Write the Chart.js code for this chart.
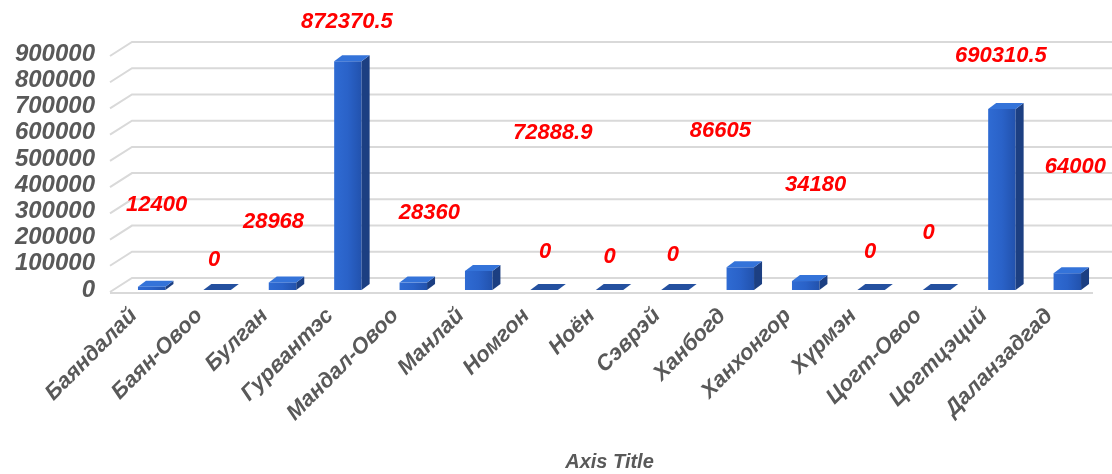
<!DOCTYPE html>
<html>
<head>
<meta charset="utf-8">
<script src="https://cdn.jsdelivr.net/npm/chart.js@4.4.1/dist/chart.umd.min.js"></script>
<style>
  html, body { margin: 0; padding: 0; background: #fff; }
  #chartDiv { width: 1112px; height: 474px; }
</style>
</head>
<body>
<div id="chartDiv"><canvas id="myChart"></canvas></div>
<script>
// soum names and values
let soums = ["Баяндалай", "Баян-Овоо", "Булган", "Гурвантэс", "Мандал-Овоо", "Манлай", "Номгон", "Ноён", "Сэврэй", "Ханбогд", "Ханхонгор", "Хүрмэн", "Цогт-Овоо", "Цогтцэций", "Даланзадгад"];
let amounts = [12400, 0, 28968, 872370.5, 28360, 72888.9, 0, 0, 0, 86605, 34180, 0, 0, 690310.5, 64000];
let valueLabels = ["12400", "0", "28968", "872370.5", "28360", "72888.9", "0", "0", "0", "86605", "34180", "0", "0", "690310.5", "64000"];
let yMax = 900000;
let yStep = 100000;

// where excel left each data label, relative to the bar top (px)
let labelShift = [[5, -82], [-3, -30], [-9, -60], [-1, -39], [16, -70], [74, -138], [1, -38], [0, -33], [-2, -35], [-20, -136], [10, -96], [-1, -38], [-8, -57], [-1, -53], [8, -106]];

let myChart = document.getElementById("myChart");
let greyText = "#595959";
let fontName = "'Liberation Sans', Arial, sans-serif";
let depthX = 22, depthY = 14;   // wall / floor depth
let barDX = 8, barDY = 6;       // bar depth

// back wall gridlines + floor, drawn before the bars
const wallPlugin = {
  id: "wall",
  beforeDatasetsDraw(chart) {
    const ctx = chart.ctx;
    const area = chart.chartArea;
    const y = chart.scales.y;
    const x0 = area.left - 9;
    ctx.save();
    ctx.strokeStyle = "#d9d9d9";
    ctx.lineWidth = 2;
    y.ticks.forEach((t) => {
      const py = y.getPixelForValue(t.value) + 2;
      ctx.beginPath();
      ctx.moveTo(x0, py);
      ctx.lineTo(x0 + depthX, py - depthY);
      ctx.lineTo(chart.width, py - depthY);
      ctx.stroke();
    });
    // front edge of the floor
    const fy = y.getPixelForValue(0) + 3;
    ctx.beginPath();
    ctx.moveTo(x0, fy);
    ctx.lineTo(area.right - 7, fy);
    ctx.stroke();
    ctx.restore();
  },
};

// turn the flat bars into excel-like 3d columns, then put the labels on
const columnPlugin = {
  id: "columns",
  afterDatasetsDraw(chart) {
    const ctx = chart.ctx;
    const meta = chart.getDatasetMeta(0);
    ctx.save();
    meta.data.forEach((bar, i) => {
      const half = bar.width / 2;
      const l = bar.x - half, r = bar.x + half;
      const top = bar.y, base = bar.base;
      // front face
      if (base - top > 0.5) {
        const g = ctx.createLinearGradient(l, 0, r, 0);
        g.addColorStop(0, "#2f6bd3");
        g.addColorStop(0.5, "#2a62c8");
        g.addColorStop(1, "#2252ad");
        ctx.fillStyle = g;
        ctx.fillRect(l, top, r - l, base - top);
        // side face
        ctx.fillStyle = "#1c3f82";
        ctx.beginPath();
        ctx.moveTo(r, top);
        ctx.lineTo(r + barDX, top - barDY);
        ctx.lineTo(r + barDX, base - barDY);
        ctx.lineTo(r, base);
        ctx.closePath();
        ctx.fill();
      }
      // top face
      ctx.fillStyle = base - top > 0.5 ? "#3473d9" : "#24509f";
      ctx.beginPath();
      ctx.moveTo(l, top);
      ctx.lineTo(l + barDX, top - barDY);
      ctx.lineTo(r + barDX, top - barDY);
      ctx.lineTo(r, top);
      ctx.closePath();
      ctx.fill();
    });

    ctx.fillStyle = "#ff0000";
    ctx.font = "italic bold 22px " + fontName;
    ctx.textAlign = "center";
    ctx.textBaseline = "middle";
    meta.data.forEach((bar, i) => {
      ctx.fillText(valueLabels[i], bar.x + labelShift[i][0], bar.y + labelShift[i][1]);
    });
    ctx.restore();
  },
};

const data = {
  labels: soums,
  datasets: [
    {
      data: amounts,
      backgroundColor: "rgba(0,0,0,0)",
      borderWidth: 0,
      barPercentage: 0.42,
      categoryPercentage: 1,
    },
  ],
};

const config = {
  type: "bar",
  data: data,
  options: {
    responsive: false,
    animation: false,
    layout: { padding: { top: 54, right: 12, left: 0, bottom: 0 } },
    plugins: { legend: { display: false }, tooltip: { enabled: false } },
    scales: {
      x: {
        grid: { display: false, drawTicks: false, tickLength: 0 },
        border: { display: false },
        ticks: {
          color: greyText,
          font: { family: fontName, size: 22, style: "italic", weight: "bold" },
          minRotation: 45,
          maxRotation: 45,
          autoSkip: false,
          padding: 13,
          labelOffset: -18,
        },
        title: {
          display: true,
          text: "Axis Title",
          color: greyText,
          font: { family: fontName, size: 20, style: "italic", weight: "bold" },
          padding: { top: 0, bottom: 0 },
        },
        afterFit: (scale) => { scale.height = 184; },
      },
      y: {
        min: 0,
        max: yMax,
        grid: { display: false, drawTicks: false, tickLength: 0 },
        border: { display: false },
        ticks: {
          stepSize: yStep,
          autoSkip: false,
          color: greyText,
          font: { family: fontName, size: 24, style: "italic", weight: "bold" },
          padding: 24,
          callback: (v) => String(v),
        },
        afterFit: (scale) => { scale.width = 119; },
      },
    },
  },
  plugins: [wallPlugin, columnPlugin],
};

myChart.width = 1112;
myChart.height = 474;
const newChart = new Chart(myChart, config);
</script>
</body>
</html>
